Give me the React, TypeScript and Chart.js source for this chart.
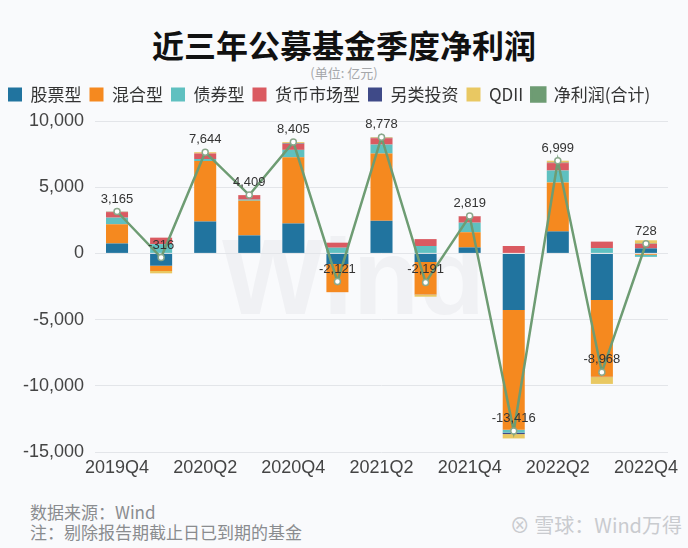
import React, { useEffect, useRef } from 'react';
import { Chart, registerables } from 'chart.js';

Chart.register(...registerables);

const categories = ['2019Q4', '2020Q1', '2020Q2', '2020Q3', '2020Q4', '2021Q1', '2021Q2', '2021Q3', '2021Q4', '2022Q1', '2022Q2', '2022Q3', '2022Q4'];
const tickLabels = ['2019Q4', '2020Q2', '2020Q4', '2021Q2', '2021Q4', '2022Q2', '2022Q4'];

const stock = [750, -930, 2410, 1360, 2260, -800, 2460, -650, 450, -4270, 1660, -3520, 380];
const mixed = [1450, -400, 4570, 2620, 5000, -2130, 5080, -2450, 1150, -9050, 3700, -5800, -102];
const bond = [500, 700, 150, 80, 560, 430, 680, 560, 720, -220, 900, 400, -160];
const money = [420, 490, 420, 340, 450, 380, 480, 520, 480, 560, 560, 490, 330];
const other = [20, 0, 0, 0, 35, 0, 28, -11, 9, -106, 29, -18, 20];
const qdii = [25, -176, 94, 9, 100, -1, 50, -160, 10, -330, 150, -520, 260];
const net = [3165, -316, 7644, 4409, 8405, -2121, 8778, -2191, 2819, -13416, 6999, -8968, 728];

const barNames = ['股票型', '混合型', '债券型', '货币市场型', '另类投资', 'QDII'];
const barSeries = [stock, mixed, bond, money, other, qdii];
const barColors = ['#21749F', '#F5891F', '#5FC0C0', '#DA5A61', '#3F4A88', '#E9C862'];
const lineName = '净利润(合计)';
const lineColor = '#6E9C73';

const NUM_FONT = "'Liberation Sans', Arial, sans-serif";
const CJK_FONT = "'Noto Sans CJK SC', 'Noto Sans', sans-serif";

export default function App() {
  const ref = useRef<HTMLCanvasElement>(null);

  useEffect(() => {
    if (!ref.current) return;

    const netLabels = {
      id: 'netLabels',
      afterDatasetsDraw(chart: any) {
        const idx = chart.data.datasets.length - 1;
        const meta = chart.getDatasetMeta(idx);
        const ctx = chart.ctx;
        ctx.save();
        ctx.font = `13px ${NUM_FONT}`;
        ctx.fillStyle = '#333333';
        ctx.textAlign = 'center';
        ctx.textBaseline = 'bottom';
        meta.data.forEach((pt: any, i: number) => {
          ctx.fillText(net[i].toLocaleString('en-US'), pt.x, pt.y - 6);
        });
        ctx.restore();
      },
    };

    const legendSpace = {
      id: 'legendSpace',
      beforeInit(chart: any) {
        const fit = chart.legend.fit;
        chart.legend.fit = function () {
          fit.call(this);
          this.height += 8;
        };
      },
    };

    const datasets: any[] = barSeries.map((data, i) => ({
      type: 'bar',
      label: barNames[i],
      data,
      backgroundColor: barColors[i],
      borderWidth: 0,
      stack: 'funds',
      order: 1,
      categoryPercentage: 1,
      barPercentage: 0.5,
    }));
    datasets.push({
      type: 'line',
      label: lineName,
      data: net,
      borderColor: lineColor,
      backgroundColor: lineColor,
      borderWidth: 2.5,
      tension: 0,
      pointRadius: 3,
      pointBackgroundColor: '#ffffff',
      pointBorderColor: '#8AA88C',
      pointBorderWidth: 1.5,
      stack: 'net',
      order: 0,
    });

    const chart = new Chart(ref.current, {
      type: 'bar',
      data: { labels: categories, datasets },
      options: {
        animation: false,
        responsive: true,
        maintainAspectRatio: false,
        layout: { padding: { left: 0, right: 20, top: 0, bottom: 0 } },
        plugins: {
          legend: {
            position: 'top',
            align: 'start',
            labels: {
              boxWidth: 14,
              boxHeight: 14,
              padding: 8,
              color: '#333333',
              font: { size: 17, family: CJK_FONT },
              sort: (a: any, b: any) => a.datasetIndex - b.datasetIndex,
            },
          },
          tooltip: { enabled: false },
          title: { display: false },
        },
        scales: {
          x: {
            stacked: true,
            grid: { display: false, drawTicks: false },
            border: { display: false },
            ticks: {
              autoSkip: false,
              maxRotation: 0,
              padding: 5,
              color: '#444444',
              font: { size: 18, family: NUM_FONT },
              callback: (_v: any, i: number) => (tickLabels.includes(categories[i]) ? categories[i] : ''),
            },
            afterFit: (s: any) => {
              s.height = 40;
            },
          },
          y: {
            stacked: true,
            min: -15000,
            max: 10000,
            grid: { color: '#E3E5E9', drawTicks: false },
            border: { display: false },
            ticks: {
              stepSize: 5000,
              padding: 11,
              color: '#444444',
              font: { size: 18, family: NUM_FONT },
              callback: (v: any) => Number(v).toLocaleString('en-US'),
            },
            afterFit: (s: any) => {
              s.width = 95;
            },
          },
        },
      },
      plugins: [netLabels, legendSpace],
    } as any);

    return () => chart.destroy();
  }, []);

  return (
    <div
      style={{
        position: 'fixed',
        left: 0,
        top: 0,
        width: 688,
        height: 548,
        background: '#F9FAFC',
        overflow: 'hidden',
        fontFamily: CJK_FONT,
      }}
    >
      <div
        style={{
          position: 'absolute',
          left: 0,
          width: 688,
          top: 24,
          lineHeight: '40px',
          fontSize: 32,
          fontWeight: 'bold',
          textAlign: 'center',
          color: '#111111',
        }}
      >
        近三年公募基金季度净利润
      </div>
      <div
        style={{
          position: 'absolute',
          left: 0,
          width: 688,
          top: 65,
          lineHeight: '16px',
          fontSize: 13,
          textAlign: 'center',
          color: '#A5A7AA',
        }}
      >
        (单位: 亿元)
      </div>
      <div
        style={{
          position: 'absolute',
          left: 222,
          top: 212,
          fontSize: 108,
          fontWeight: 'bold',
          fontFamily: NUM_FONT,
          color: '#F0F1F4',
          lineHeight: '130px',
        }}
      >
        Wind
      </div>
      <div style={{ position: 'absolute', left: 0, top: 78, width: 688, height: 414 }}>
        <canvas ref={ref} />
      </div>
      <div
        style={{
          position: 'absolute',
          left: 30,
          top: 502,
          fontSize: 17,
          lineHeight: '20px',
          color: '#8A8C8F',
        }}
      >
        数据来源：Wind
        <br />
        注：剔除报告期截止日已到期的基金
      </div>
      <div
        style={{
          position: 'absolute',
          right: 6,
          top: 512,
          fontSize: 20,
          lineHeight: '26px',
          color: '#C9CBCF',
        }}
      >
        ⊗ 雪球：Wind万得
      </div>
    </div>
  );
}
